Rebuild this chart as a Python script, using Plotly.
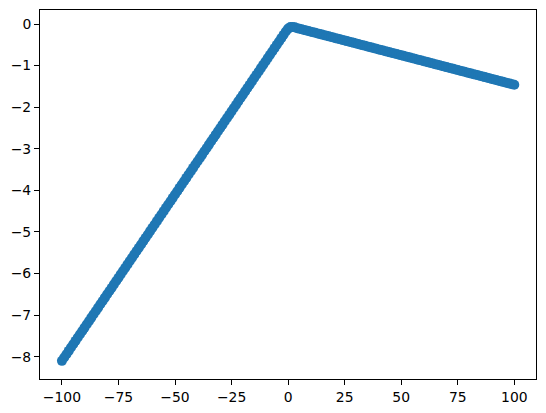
import plotly.graph_objects as go

x_vals = [
    -100, -99, -98, -97, -96, -95, -94, -93, -92, -91,
    -90, -89, -88, -87, -86, -85, -84, -83, -82, -81,
    -80, -79, -78, -77, -76, -75, -74, -73, -72, -71,
    -70, -69, -68, -67, -66, -65, -64, -63, -62, -61,
    -60, -59, -58, -57, -56, -55, -54, -53, -52, -51,
    -50, -49, -48, -47, -46, -45, -44, -43, -42, -41,
    -40, -39, -38, -37, -36, -35, -34, -33, -32, -31,
    -30, -29, -28, -27, -26, -25, -24, -23, -22, -21,
    -20, -19, -18, -17, -16, -15, -14, -13, -12, -11,
    -10, -9, -8, -7, -6, -5, -4, -3, -2, -1,
    0, 1, 2, 3, 4, 5, 6, 7, 8, 9, 10,
    11, 12, 13, 14, 15, 16, 17, 18, 19, 20,
    21, 22, 23, 24, 25, 26, 27, 28, 29, 30,
    31, 32, 33, 34, 35, 36, 37, 38, 39, 40,
    41, 42, 43, 44, 45, 46, 47, 48, 49, 50,
    51, 52, 53, 54, 55, 56, 57, 58, 59, 60,
    61, 62, 63, 64, 65, 66, 67, 68, 69, 70,
    71, 72, 73, 74, 75, 76, 77, 78, 79, 80,
    81, 82, 83, 84, 85, 86, 87, 88, 89, 90,
    91, 92, 93, 94, 95, 96, 97, 98, 99, 100,
]

y_vals = [
    -8.10, -8.02, -7.94, -7.86, -7.78, -7.70, -7.62, -7.54, -7.46, -7.38,
    -7.30, -7.22, -7.14, -7.06, -6.98, -6.90, -6.82, -6.74, -6.66, -6.58,
    -6.50, -6.42, -6.34, -6.26, -6.18, -6.10, -6.02, -5.94, -5.86, -5.78,
    -5.70, -5.62, -5.54, -5.46, -5.38, -5.30, -5.22, -5.14, -5.06, -4.98,
    -4.90, -4.82, -4.74, -4.66, -4.58, -4.50, -4.42, -4.34, -4.26, -4.18,
    -4.10, -4.02, -3.94, -3.86, -3.78, -3.70, -3.62, -3.54, -3.46, -3.38,
    -3.30, -3.22, -3.14, -3.06, -2.98, -2.90, -2.82, -2.74, -2.66, -2.58,
    -2.50, -2.42, -2.34, -2.26, -2.18, -2.10, -2.02, -1.94, -1.86, -1.78,
    -1.70, -1.62, -1.54, -1.46, -1.38, -1.30, -1.22, -1.14, -1.06, -0.98,
    -0.90, -0.82, -0.74, -0.66, -0.58, -0.50, -0.42, -0.34, -0.26, -0.18,
    -0.11, -0.07, -0.07, -0.08, -0.10, -0.113, -0.127, -0.141, -0.155, -0.169, -0.184,
    -0.198, -0.212, -0.226, -0.240, -0.255, -0.269, -0.283, -0.297, -0.311, -0.326,
    -0.340, -0.354, -0.368, -0.382, -0.397, -0.411, -0.425, -0.439, -0.453, -0.468,
    -0.482, -0.496, -0.510, -0.524, -0.539, -0.553, -0.567, -0.581, -0.595, -0.610,
    -0.624, -0.638, -0.652, -0.666, -0.681, -0.695, -0.709, -0.723, -0.737, -0.752,
    -0.766, -0.780, -0.794, -0.808, -0.823, -0.837, -0.851, -0.865, -0.879, -0.894,
    -0.908, -0.922, -0.936, -0.950, -0.965, -0.979, -0.993, -1.007, -1.021, -1.036,
    -1.050, -1.064, -1.078, -1.092, -1.107, -1.121, -1.135, -1.149, -1.163, -1.178,
    -1.192, -1.206, -1.220, -1.234, -1.249, -1.263, -1.277, -1.291, -1.305, -1.320,
    -1.334, -1.348, -1.362, -1.376, -1.391, -1.405, -1.419, -1.433, -1.447, -1.462,
]

x_ticks = [-100, -75, -50, -25, 0, 25, 50, 75, 100]
y_ticks = [-8, -7, -6, -5, -4, -3, -2, -1, 0]

fig = go.Figure()
fig.add_trace(go.Scatter(
    x=x_vals, y=y_vals, mode="markers",
    marker=dict(color="#1f77b4", size=10, line=dict(width=0)),
    showlegend=False,
))

axis_common = dict(
    showgrid=False, zeroline=False, showline=True, linecolor="black",
    linewidth=1, mirror=True, ticks="outside", ticklen=5, tickwidth=1,
    tickcolor="black", automargin=False,
    tickfont=dict(family="DejaVu Sans", size=13.9, color="black"),
)

fig.update_layout(
    width=546, height=413,
    margin=dict(l=40, r=10, t=10, b=34),
    paper_bgcolor="white", plot_bgcolor="white",
    xaxis=dict(range=[-109.7, 109.6], tickvals=x_ticks, **axis_common),
    yaxis=dict(range=[-8.536, 0.337], tickvals=y_ticks, **axis_common),
)

fig.write_html(
    "out.html",
    config={"displayModeBar": False, "staticPlot": True},
    post_script="document.body.style.margin='0';document.body.style.padding='0';",
)
